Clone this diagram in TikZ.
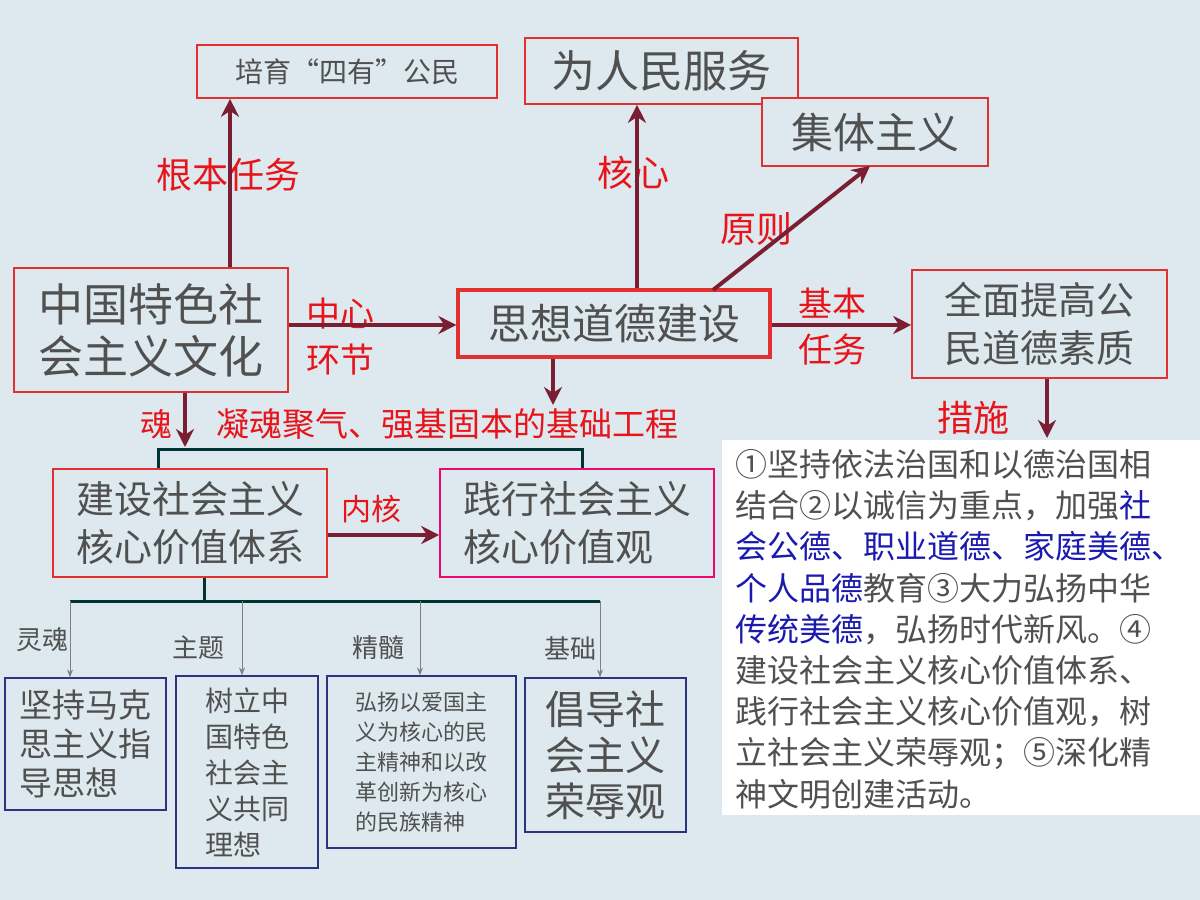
\documentclass[tikz,border=0pt]{standalone}
\usepackage{fontspec}
\setmainfont{Noto Sans CJK SC}
\usetikzlibrary{arrows.meta}
\definecolor{bg}{HTML}{DDE9EE}
\definecolor{dred}{HTML}{7A1F33}
\definecolor{lab}{HTML}{E8141B}
\definecolor{tx}{HTML}{505050}
\definecolor{bx}{HTML}{E03030}
\definecolor{nv}{HTML}{2A3580}
\definecolor{bl}{HTML}{1A1AB0}
\tikzset{
 rb/.style={draw=bx,line width=0.8pt,text=tx,inner sep=0pt},
 nb/.style={draw=nv,line width=0.6pt,text=tx,inner sep=0pt},
 lb/.style={text=lab,inner sep=0pt},
 gl/.style={text=tx,inner sep=0pt},
 ar/.style={draw=dred,line width=2pt,-{Stealth[length=9pt,width=9pt]}},
 thin/.style={draw=gray,line width=0.5pt,-{Stealth[length=4pt,width=3pt]}},
}
\begin{document}
\begin{tikzpicture}[x=0.5pt,y=-0.5pt]
\fill[bg] (0,0) rectangle (1200,900);
\fill[white] (722,440) rectangle (1200,815);
% boxes
\node[rb,minimum width=150pt,minimum height=26.5pt,font=\fontsize{14}{16}\selectfont] (pe) at (347,71.5) {培育“四有”公民};
\node[rb,minimum width=136.5pt,minimum height=33pt,font=\fontsize{22}{24}\selectfont] (wr) at (661.5,71) {为人民服务};
\node[rb,minimum width=113pt,minimum height=34pt,font=\fontsize{21}{24}\selectfont,fill=bg] (jt) at (875,132) {集体主义};
\node[rb,minimum width=137pt,minimum height=62pt,align=left,font=\fontsize{22.5}{26}\selectfont] (zg) at (151,330) {中国特色社\\会主义文化};
\node[draw=bx,line width=1.6pt,text=tx,inner sep=0pt,minimum width=156pt,minimum height=33.5pt,font=\fontsize{21}{24}\selectfont] (sx) at (614,323.5) {思想道德建设};
\node[rb,minimum width=127.5pt,minimum height=54pt,align=left,font=\fontsize{19}{24}\selectfont] (qm) at (1039.5,324) {全面提高公\\民道德素质};
\node[rb,minimum width=137pt,minimum height=54pt,align=left,font=\fontsize{19}{24}\selectfont] (js) at (190,523) {建设社会主义\\核心价值体系};
\node[draw=magenta!70!red,line width=0.8pt,text=tx,inner sep=0pt,minimum width=137pt,minimum height=54pt,align=left,font=\fontsize{19}{24}\selectfont] (jx) at (577,523) {践行社会主义\\核心价值观};
\node[nb,minimum width=80.5pt,minimum height=66pt,align=left,font=\fontsize{16.5}{19.5}\selectfont] (b1) at (85.5,744) {坚持马克\\思主义指\\导思想};
\node[nb,minimum width=71pt,minimum height=96pt,align=left,font=\fontsize{14}{18}\selectfont] (b2) at (247,772) {树立中\\国特色\\社会主\\义共同\\理想};
\node[nb,minimum width=94.5pt,minimum height=86pt,align=left,font=\fontsize{11}{15}\selectfont] (b3) at (421.5,762) {弘扬以爱国主\\义为核心的民\\主精神和以改\\革创新为核心\\的民族精神};
\node[nb,minimum width=80.5pt,minimum height=77pt,align=left,font=\fontsize{20}{23}\selectfont] (b4) at (605.5,755) {倡导社\\会主义\\荣辱观};
% labels
\node[lb,font=\fontsize{18}{20}\selectfont] (l1) at (228,175) {根本任务};
\node[lb,font=\fontsize{18}{20}\selectfont] (l2) at (633,173) {核心};
\node[lb,font=\fontsize{18}{20}\selectfont] (l3) at (756,229) {原则};
\node[lb,align=left,font=\fontsize{17}{23}\selectfont] (l4) at (340,337) {中心\\环节};
\node[lb,align=left,font=\fontsize{17}{23}\selectfont] (l5) at (832,327) {基本\\任务};
\node[lb,font=\fontsize{18}{20}\selectfont] (l6) at (973,418) {措施};
\node[lb,font=\fontsize{16}{18}\selectfont] (l7) at (156,424) {魂};
\node[lb,font=\fontsize{16.5}{18}\selectfont] (l8) at (447,424) {凝魂聚气、强基固本的基础工程};
\node[lb,font=\fontsize{15}{18}\selectfont] (l9) at (371,509) {内核};
\node[gl,font=\fontsize{13}{16}\selectfont] (g1) at (43,640) {灵魂};
\node[gl,font=\fontsize{13}{16}\selectfont] (g2) at (198,648) {主题};
\node[gl,font=\fontsize{13}{16}\selectfont] (g3) at (378,648) {精髓};
\node[gl,font=\fontsize{13}{16}\selectfont] (g4) at (570,648) {基础};
% right text
\node[gl,anchor=north west,align=left,font=\fontsize{16}{20.6}\selectfont] (rt) at (735,449) {①坚持依法治国和以德治国相\\结合②以诚信为重点，加强\textcolor{bl}{社}\\\textcolor{bl}{会公德、职业道德、家庭美德、}\\\textcolor{bl}{个人品德}教育③大力弘扬中华\\\textcolor{bl}{传统美德}，弘扬时代新风。④\\建设社会主义核心价值体系、\\践行社会主义核心价值观，树\\立社会主义荣辱观；⑤深化精\\神文明创建活动。};
% coordinates
\coordinate (c1) at (1047,438);
\coordinate (c2) at (553,405);
\coordinate (c3) at (185,447);
% arrows
\draw[ar] (zg.north -| 230,0) -- (pe.south -| 230,0);
\draw[ar] (sx.north -| 637,0) -- (wr.south -| 637,0);
\draw[ar] (713,290) -- (870,166);
\draw[ar] (zg.east |- 0,325) -- (sx.west |- 0,325);
\draw[ar] (sx.east |- 0,325) -- (qm.west |- 0,325);
\draw[ar] (qm.south -| c1) -- (c1);
\draw[ar] (sx.south -| c2) -- (c2);
\draw[ar] (zg.south -| c3) -- (c3);
\draw[ar] (js.east |- 0,535) -- (jx.west |- 0,535);
\draw[draw=teal!40!black,line width=1.5pt] (js.north -| 158,0) -- (158,449) -- (582,449) -- (jx.north -| 582,0);
\draw[draw=teal!40!black,line width=1.5pt] (js.south -| 204,0) -- (204,601);
\draw[draw=teal!40!black,line width=1.5pt] (70,601) -- (600,601);
\draw[thin] (70,601) -- (b1.north -| 70,0);
\draw[thin] (242,601) -- (b2.north -| 242,0);
\draw[thin] (420,601) -- (b3.north -| 420,0);
\draw[thin] (600,601) -- (b4.north -| 600,0);
\end{tikzpicture}
\end{document}
